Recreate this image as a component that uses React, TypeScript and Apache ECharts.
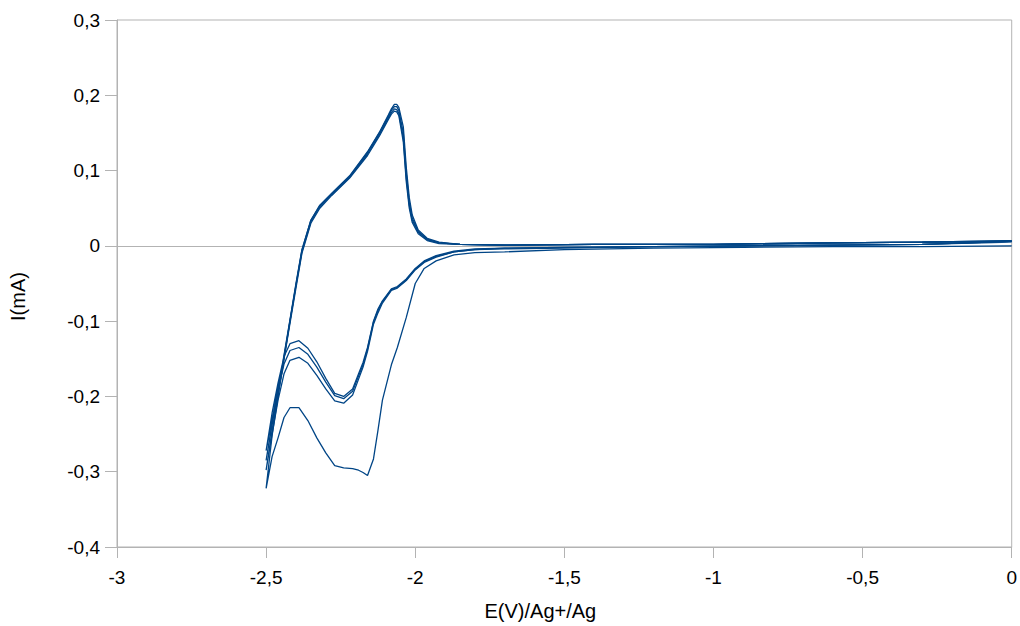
import React, { useEffect, useRef } from "react";
import * as echarts from "echarts";

// Potential grid of the cathodic (negative-going) scans, V vs Ag+/Ag
const catE = [0, -0.3, -0.6, -0.9, -1.2, -1.5, -1.7, -1.8, -1.87, -1.93, -1.97, -2.0, -2.03, -2.06, -2.08, -2.11, -2.125, -2.14, -2.16, -2.175, -2.19, -2.21, -2.24, -2.27, -2.3, -2.33, -2.36, -2.39, -2.42, -2.44, -2.46, -2.48, -2.5];
// Cathodic currents (mA), one array per cycle
const cat1 = [0.0, -0.001, -0.001, -0.002, -0.003, -0.005, -0.008, -0.009, -0.012, -0.02, -0.03, -0.05, -0.095, -0.135, -0.158, -0.205, -0.245, -0.283, -0.305, -0.301, -0.298, -0.296, -0.295, -0.292, -0.275, -0.255, -0.232, -0.215, -0.215, -0.228, -0.255, -0.28, -0.322];
const cat2 = [0.005, 0.002, 0.001, 0.0, -0.001, -0.002, -0.003, -0.004, -0.007, -0.013, -0.02, -0.03, -0.044, -0.054, -0.057, -0.073, -0.084, -0.1, -0.135, -0.155, -0.17, -0.19, -0.2, -0.196, -0.176, -0.154, -0.136, -0.126, -0.13, -0.147, -0.182, -0.222, -0.272];
const cat3 = [0.006, 0.002, 0.001, 0.0, -0.001, -0.002, -0.003, -0.005, -0.008, -0.014, -0.021, -0.031, -0.045, -0.055, -0.058, -0.074, -0.086, -0.101, -0.137, -0.158, -0.173, -0.193, -0.203, -0.199, -0.181, -0.161, -0.144, -0.135, -0.139, -0.157, -0.192, -0.235, -0.285];
const cat4 = [0.006, 0.002, 0.001, 0.0, -0.001, -0.003, -0.004, -0.005, -0.008, -0.015, -0.022, -0.032, -0.046, -0.056, -0.059, -0.076, -0.089, -0.104, -0.14, -0.161, -0.177, -0.198, -0.209, -0.206, -0.19, -0.172, -0.156, -0.148, -0.152, -0.17, -0.205, -0.25, -0.298];

// Potential grid of the anodic (positive-going) scans
const anE = [-2.5, -2.48, -2.46, -2.44, -2.42, -2.4, -2.38, -2.35, -2.32, -2.28, -2.22, -2.16, -2.12, -2.09, -2.08, -2.07, -2.062, -2.055, -2.04, -2.03, -2.02, -2.01, -1.99, -1.96, -1.92, -1.85, -1.7, -1.4, -1.0, -0.6, -0.3, 0];
const an1 = [-0.322, -0.252, -0.2, -0.15, -0.1, -0.052, -0.006, 0.034, 0.054, 0.07, 0.093, 0.125, 0.151, 0.174, 0.182, 0.188, 0.188, 0.184, 0.158, 0.104, 0.064, 0.041, 0.021, 0.01, 0.005, 0.002, 0.001, 0.002, 0.002, 0.004, 0.005, 0.006];
const an2 = [-0.272, -0.232, -0.19, -0.145, -0.098, -0.05, -0.005, 0.034, 0.053, 0.069, 0.092, 0.124, 0.15, 0.172, 0.18, 0.185, 0.185, 0.18, 0.15, 0.096, 0.058, 0.037, 0.019, 0.009, 0.004, 0.002, 0.001, 0.002, 0.002, 0.004, 0.005, 0.006];
const an3 = [-0.285, -0.238, -0.193, -0.147, -0.1, -0.053, -0.008, 0.032, 0.052, 0.068, 0.091, 0.122, 0.148, 0.17, 0.177, 0.182, 0.181, 0.176, 0.143, 0.09, 0.054, 0.034, 0.018, 0.008, 0.004, 0.002, 0.001, 0.002, 0.002, 0.004, 0.005, 0.007];
const an4 = [-0.298, -0.245, -0.197, -0.15, -0.103, -0.056, -0.01, 0.03, 0.05, 0.067, 0.09, 0.12, 0.146, 0.168, 0.175, 0.179, 0.178, 0.173, 0.138, 0.085, 0.05, 0.031, 0.016, 0.007, 0.003, 0.002, 0.001, 0.002, 0.002, 0.004, 0.005, 0.007];

const cycles = [
  { name: "Cycle 1", cat: cat1, an: an1 },
  { name: "Cycle 2", cat: cat2, an: an2 },
  { name: "Cycle 3", cat: cat3, an: an3 },
  { name: "Cycle 4", cat: cat4, an: an4 },
];

const xTitle = "E(V)/Ag+/Ag";
const yTitle = "I(mA)";

const fmt = (v: number) => String(+v.toFixed(1)).replace(".", ",");

export default function App() {
  const ref = useRef<HTMLDivElement>(null);
  useEffect(() => {
    if (!ref.current) return;
    const chart = echarts.init(ref.current, null, { renderer: "svg" });
    const font = "'Liberation Sans', Arial, sans-serif";
    const axisGray = "#b3b3b3";
    const series: any[] = cycles.map((c, i) => ({
      type: "line",
      name: c.name,
      data: [
        ...catE.map((e, k) => [e, c.cat[k]]),
        ...anE.map((e, k) => [e, c.an[k]]),
      ],
      showSymbol: false,
      symbol: "none",
      smooth: false,
      lineStyle: { color: "#004586", width: 1.3 },
      itemStyle: { color: "#004586" },
      z: 3,
      markLine:
        i === 0
          ? {
              silent: true,
              symbol: ["none", "none"],
              label: { show: false },
              lineStyle: { color: axisGray, width: 1, type: "solid" },
              data: [{ yAxis: 0 }],
              z: 1,
            }
          : undefined,
    }));
    chart.setOption({
      animation: false,
      textStyle: { fontFamily: font },
      grid: {
        left: 116,
        right: 8,
        top: 20,
        bottom: 77,
        show: true,
        borderColor: axisGray,
        borderWidth: 1,
      },
      xAxis: {
        type: "value",
        min: -3,
        max: 0,
        interval: 0.5,
        name: xTitle,
        nameLocation: "middle",
        nameGap: 54,
        nameTextStyle: { color: "#000", fontSize: 20, fontFamily: font, padding: [0, 48, 0, 0] },
        axisLine: { show: true, onZero: false, lineStyle: { color: axisGray } },
        axisTick: { show: true, length: 11, lineStyle: { color: axisGray } },
        axisLabel: { color: "#000", fontSize: 19, margin: 21, formatter: fmt, fontFamily: font },
        splitLine: { show: false },
      },
      yAxis: {
        type: "value",
        min: -0.4,
        max: 0.3,
        interval: 0.1,
        name: yTitle,
        nameLocation: "middle",
        nameGap: 89,
        nameTextStyle: { color: "#000", fontSize: 20, fontFamily: font, padding: [0, 26, 0, 0] },
        axisLine: { show: true, onZero: false, lineStyle: { color: axisGray } },
        axisTick: { show: true, length: 12, lineStyle: { color: axisGray } },
        axisLabel: { color: "#000", fontSize: 19, margin: 17, formatter: fmt, fontFamily: font },
        splitLine: { show: false },
      },
      series,
    });
    return () => chart.dispose();
  }, []);
  return (
    <div
      ref={ref}
      style={{ position: "absolute", left: 0, top: 0, width: 1020, height: 626, background: "#fff" }}
    />
  );
}
